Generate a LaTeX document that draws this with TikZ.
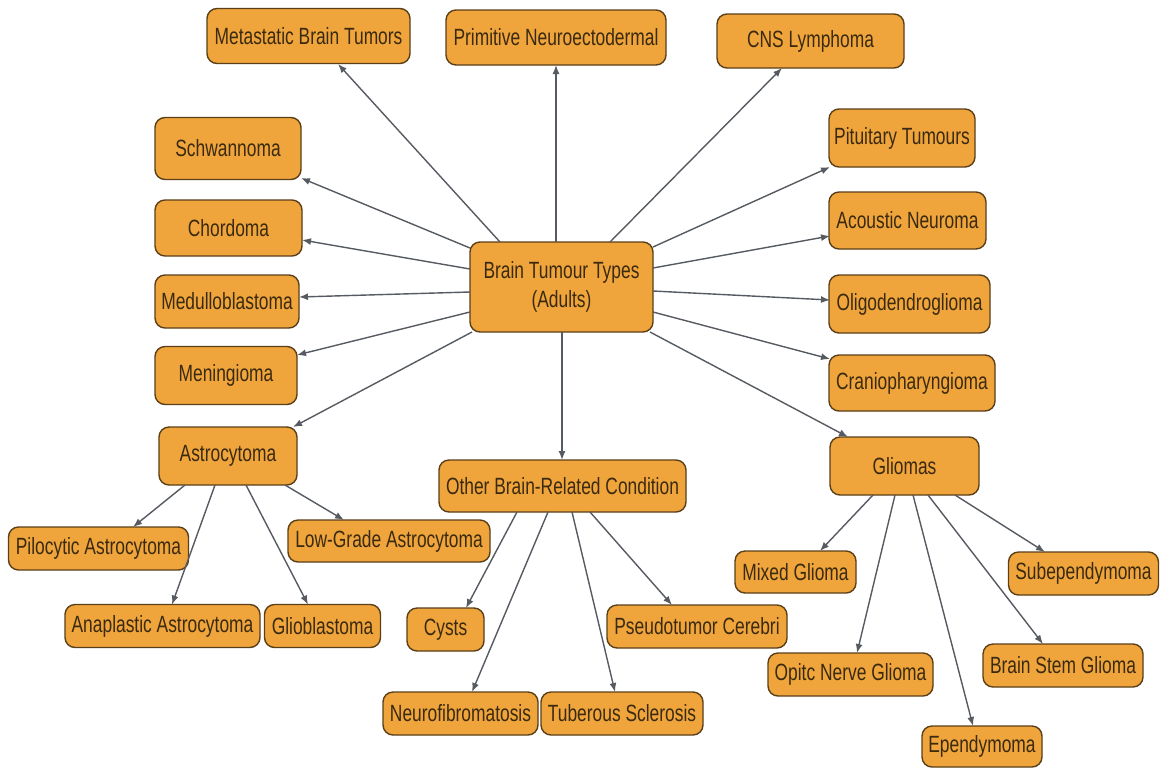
\documentclass[tikz,border=0pt]{standalone}
\usepackage{fontspec}
\setmainfont[FakeStretch=0.74]{Liberation Sans}
\usetikzlibrary{arrows.meta}
\definecolor{boxfill}{HTML}{F0A53C}
\definecolor{boxline}{HTML}{5A3F18}
\definecolor{boxtext}{HTML}{3A2A10}
\definecolor{linkcol}{HTML}{565B62}
\tikzset{
  box/.style={draw=boxline, line width=1.4pt, fill=boxfill, rounded corners=10pt,
    text=boxtext, font=\fontsize{23.5}{29}\selectfont, align=center, inner sep=0pt},
  conn/.style={draw=linkcol, line width=1.4pt, -{Latex[length=9pt,width=7pt]}}
}
\newcommand{\bx}[6]{\node[box, minimum width=#4pt, minimum height=#5pt] (#1) at (#2,#3) {#6};}
\newcommand{\cn}[6]{\draw[conn] ([shift={(#2,#3)}]#1.center) -- ([shift={(#5,#6)}]#4.center);}
\begin{document}
\begin{tikzpicture}[x=1pt,y=-1pt]
\useasboundingbox[fill=white] (0,0) rectangle (1166,769);
% nodes
\bx{hub}{561.5}{287}{183}{90}{Brain Tumour Types\\(Adults)}
\bx{meta}{308.5}{36}{203}{55}{Metastatic Brain Tumors}
\bx{prim}{556}{37.5}{220}{55}{Primitive Neuroectodermal}
\bx{cns}{810.5}{41}{187}{54}{CNS Lymphoma}
\bx{pit}{902}{138}{146}{58}{Pituitary Tumours}
\bx{acou}{907.5}{220.5}{157}{57}{Acoustic Neuroma}
\bx{oligo}{909.5}{304}{161}{58}{Oligodendroglioma}
\bx{cranio}{912}{383}{166}{56}{Craniopharyngioma}
\bx{gliomas}{904.5}{466}{149}{58}{Gliomas}
\bx{schw}{228}{148.5}{146}{62}{Schwannoma}
\bx{chord}{228.5}{228}{147}{56}{Chordoma}
\bx{medu}{227}{301.5}{144}{53}{Medulloblastoma}
\bx{menin}{226}{375.5}{142}{58}{Meningioma}
\bx{astro}{228}{456}{138}{58}{Astrocytoma}
\bx{other}{562.5}{486}{247}{52}{Other Brain-Related Condition}
\bx{pilo}{98.5}{548.5}{180}{43}{Pilocytic Astrocytoma}
\bx{low}{389}{541}{202}{42}{Low-Grade Astrocytoma}
\bx{anap}{162.5}{626}{195}{43}{Anaplastic Astrocytoma}
\bx{glio}{322.5}{626}{116}{43}{Glioblastoma}
\bx{cysts}{445.5}{629.5}{77}{43}{Cysts}
\bx{pseudo}{697}{626.5}{180}{43}{Pseudotumor Cerebri}
\bx{neuro}{460.5}{713.5}{155}{43}{Neurofibromatosis}
\bx{tuber}{622}{713.5}{162}{43}{Tuberous Sclerosis}
\bx{mixed}{795.5}{572}{121}{42}{Mixed Glioma}
\bx{subep}{1083.5}{573.5}{150}{43}{Subependymoma}
\bx{optic}{850.5}{674.5}{165}{43}{Opitc Nerve Glioma}
\bx{bstem}{1063}{665.5}{160}{43}{Brain Stem Glioma}
\bx{epend}{982}{746.5}{120}{41}{Ependymoma}
% hub connectors
\cn{hub}{-61.5}{-45}{meta}{29.5}{28}
\cn{hub}{-5.5}{-45}{prim}{0}{27.5}
\cn{hub}{48.5}{-45}{cns}{-28.5}{27}
\cn{hub}{91.5}{-40}{pit}{-72}{29}
\cn{hub}{91.5}{-19}{acou}{-77.5}{15.5}
\cn{hub}{91.5}{4}{oligo}{-79.5}{-4}
\cn{hub}{91.5}{25}{cranio}{-82}{-24}
\cn{hub}{88.5}{45}{gliomas}{-56.5}{-29}
\cn{hub}{-91.5}{-39}{schw}{73}{29.5}
\cn{hub}{-91.5}{-18}{chord}{73.5}{12}
\cn{hub}{-91.5}{5}{medu}{72}{-4.5}
\cn{hub}{-91.5}{25}{menin}{71}{-20.5}
\cn{hub}{-89.5}{45}{astro}{65}{-29}
\cn{hub}{0.5}{45}{other}{-0.5}{-26}
% astrocytoma
\cn{astro}{-43}{29}{pilo}{34.5}{-21.5}
\cn{astro}{-13}{29}{anap}{9.5}{-21.5}
\cn{astro}{18}{29}{glio}{-14.5}{-21.5}
\cn{astro}{57}{29}{low}{-45}{-21}
% other
\cn{other}{-45.5}{26}{cysts}{20.5}{-21.5}
\cn{other}{-14.5}{26}{neuro}{11.5}{-21.5}
\cn{other}{9.5}{26}{tuber}{-7}{-21.5}
\cn{other}{27.5}{26}{pseudo}{-25}{-21.5}
% gliomas
\cn{gliomas}{-31.5}{29}{mixed}{24.5}{-21}
\cn{gliomas}{-9.5}{29}{optic}{6.5}{-21.5}
\cn{gliomas}{8.5}{29}{epend}{-9}{-20.5}
\cn{gliomas}{23.5}{29}{bstem}{-20}{-21.5}
\cn{gliomas}{50.5}{29}{subep}{-38.5}{-21.5}
\end{tikzpicture}
\end{document}
